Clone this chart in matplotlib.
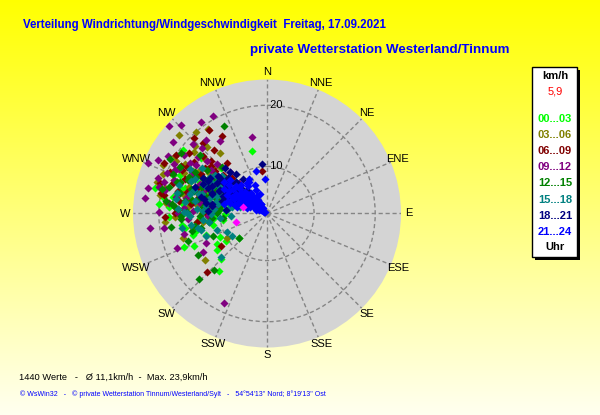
import numpy as np
import matplotlib
matplotlib.use('Agg')
import matplotlib.pyplot as plt
from matplotlib.patches import Rectangle

plt.rcParams['font.family'] = ['Liberation Sans', 'DejaVu Sans']

# Windrichtung (Grad) und Windgeschwindigkeit (km/h), je Zeitabschnitt
dir_00_03 = [275, 283, 262, 254, 246, 220, 239, 229, 290, 300, 305, 296, 288, 279, 270,
             266, 258, 251, 243, 236, 285, 292, 310, 318, 300, 276, 268, 282, 297, 304,
             289, 273, 261, 248, 234, 225, 292, 287, 315, 307, 280, 265, 256, 299, 346,
             284, 278, 291, 295, 271, 263, 286, 301, 274, 269, 281, 293, 277, 288, 298,
             284, 272, 260, 294, 303, 279, 287, 267, 290, 282]
spd_00_03 = [20.1, 21.0, 16.5, 15.0, 15.5, 14.8, 12.0, 8.2, 17.5, 15.0, 13.0, 11.0, 12.5, 14.0, 16.0,
             13.5, 11.5, 13.0, 11.0, 10.5, 9.5, 19.0, 16.5, 17.5, 7.5, 10.0, 18.5, 15.5, 14.0, 9.5,
             8.0, 12.0, 9.5, 17.0, 12.5, 13.0, 6.5, 16.5, 13.0, 19.5, 18.0, 11.0, 14.5, 18.5, 12.9,
             13.0, 15.0, 10.5, 14.5, 12.5, 14.0, 17.0, 12.0, 18.5, 9.0, 11.0, 16.0, 16.5, 14.0, 11.5,
             8.5, 11.0, 16.0, 18.0, 13.5, 19.5, 10.0, 12.0, 12.5, 9.5]

dir_03_06 = [286, 325, 265, 254, 233, 239, 300, 310, 318, 295, 305, 290, 280, 272, 312,
             322, 298, 284, 276, 308, 315, 302, 293, 288, 270, 260, 296, 311, 319, 304,
             283, 278, 299, 307, 291, 314, 285, 274, 301, 294,
             281, 289, 297, 275, 268, 303, 284, 292, 279, 287, 310, 271, 295, 300, 283,
             277, 306, 290, 262, 296, 286, 313, 280, 298, 273]
spd_03_06 = [21.0, 19.3, 19.1, 16.8, 15.1, 10.0, 19.5, 18.0, 17.0, 16.5, 14.0, 18.5, 15.5, 17.0, 21.5,
             15.0, 12.5, 13.0, 19.0, 11.5, 13.5, 20.0, 14.5, 11.0, 13.0, 15.0, 17.5, 16.0, 20.0, 9.5,
             16.5, 12.0, 10.5, 14.5, 20.5, 11.0, 14.0, 17.5, 18.0, 12.0,
             13.5, 16.0, 18.5, 15.5, 17.5, 15.5, 19.5, 12.5, 11.0, 13.0, 14.0, 12.0, 21.0, 16.5, 17.5,
             14.0, 12.0, 10.0, 13.0, 14.0, 9.5, 18.5, 20.0, 11.0, 16.0]

dir_06_09 = [325, 353, 235, 226, 300, 310, 295, 285, 305, 318, 290, 280, 298, 312, 322,
             303, 293, 287, 277, 308, 315, 300, 296, 283, 270, 263, 306, 316, 292, 301,
             289, 311, 297, 275, 320, 330, 304, 286, 299, 309,
             282, 294, 288, 279, 301, 273, 297, 285, 305, 291, 268, 276, 299, 284, 307,
             290, 281, 295, 302, 287, 278, 313, 293, 271, 296]
spd_06_09 = [19.0, 9.3, 11.6, 16.2, 17.5, 14.5, 19.0, 16.0, 12.0, 18.0, 13.5, 19.5, 15.5, 16.5, 13.0,
             20.0, 17.0, 11.0, 15.0, 18.5, 10.5, 13.0, 21.0, 14.0, 17.5, 14.0, 15.0, 19.5, 12.5, 10.0,
             17.5, 12.0, 18.0, 12.5, 16.0, 17.0, 8.5, 20.5, 14.5, 13.5,
             14.0, 11.5, 18.5, 13.0, 15.0, 16.0, 10.0, 12.5, 17.0, 14.5, 19.0, 11.0, 18.5, 17.5, 13.0,
             9.5, 20.0, 16.0, 11.5, 13.5, 17.0, 15.0, 19.5, 12.5, 8.0]

dir_09_12 = [312, 316, 324, 331, 293, 277, 271, 262, 249, 239, 206, 349, 300, 305, 290,
             284, 296, 309, 320, 315, 302, 288, 280, 298, 311, 294, 286, 303, 318, 307,
             292, 274, 266, 300, 313, 327, 296, 283, 289, 306, 299, 256, 244, 318,
             281, 294, 287, 276, 301, 270, 297, 285, 308, 291, 279, 263, 299, 283, 310,
             289, 272, 295, 304, 288, 277, 315, 293, 268, 282]
spd_09_12 = [23.5, 22.3, 20.7, 20.5, 23.2, 22.3, 20.0, 19.4, 18.1, 14.7, 18.6, 15.2, 21.0, 19.0, 18.5,
             20.5, 16.0, 17.0, 18.0, 14.0, 13.0, 15.0, 17.5, 19.5, 15.5, 12.0, 14.0, 17.5, 11.5, 21.5,
             20.0, 16.0, 15.5, 10.5, 19.0, 16.5, 22.0, 12.5, 18.0, 13.0, 9.0, 16.5, 13.5, 9.0,
             16.0, 14.5, 20.0, 18.5, 12.5, 17.0, 18.5, 15.5, 14.0, 11.0, 13.5, 21.5, 16.5, 19.5, 12.0,
             13.5, 14.5, 19.0, 16.5, 21.0, 10.5, 17.5, 12.5, 12.0, 22.0]

dir_12_15 = [334, 262, 251, 239, 223, 226, 229, 300, 290, 280, 272, 265, 296, 306, 285,
             276, 268, 258, 292, 302, 311, 287, 279, 270, 298, 283, 260, 247, 294, 305,
             288, 274, 316, 299, 281, 264, 293, 286, 309, 277,
             282, 291, 273, 297, 286, 268, 302, 279, 289, 295, 262, 276, 284, 300, 271,
             287, 293, 257, 280, 298, 266, 290, 283, 275, 296]
spd_12_15 = [18.3, 18.2, 16.1, 15.6, 15.1, 17.9, 8.2, 16.0, 17.5, 15.0, 13.0, 11.5, 12.0, 14.5, 19.0,
             18.0, 16.5, 13.5, 14.0, 10.0, 17.0, 11.0, 12.5, 10.5, 18.5, 20.0, 14.5, 12.0, 9.0, 19.5,
             15.5, 17.5, 13.0, 20.5, 10.0, 9.5, 16.5, 13.0, 11.5, 19.0,
             14.0, 12.0, 17.0, 15.5, 11.0, 13.5, 12.5, 16.0, 18.0, 16.5, 12.0, 13.0, 9.5, 10.5, 15.5,
             15.0, 19.0, 15.0, 12.0, 14.0, 16.5, 10.0, 17.0, 10.0, 13.0]

dir_15_18 = [226, 237, 290, 300, 282, 272, 262, 252, 295, 305, 288, 278, 268, 258, 310,
             298, 285, 275, 265, 245, 303, 293, 283, 270, 256, 308, 296, 287, 276, 266,
             300, 291, 280, 315, 305, 289, 273, 260, 297, 284,
             281, 292, 286, 274, 299, 269, 279, 294, 284, 261, 289, 302, 277, 296, 271,
             288, 281, 307, 264, 293, 286, 275, 298, 283, 250]
spd_15_18 = [12.8, 9.0, 10.0, 11.5, 12.5, 13.0, 12.0, 11.0, 14.0, 9.0, 15.0, 16.0, 15.0, 14.0, 12.0,
             7.5, 9.5, 11.0, 10.0, 9.5, 13.5, 16.0, 17.5, 15.5, 13.5, 10.5, 12.5, 13.5, 8.5, 8.0,
             17.0, 8.5, 14.5, 9.5, 15.5, 11.0, 17.0, 16.5, 10.0, 6.5,
             10.5, 11.0, 12.0, 14.0, 13.0, 11.5, 17.5, 13.5, 15.5, 15.0, 9.0, 12.0, 12.5, 15.5, 16.0,
             17.5, 8.0, 13.0, 13.0, 10.0, 14.0, 9.0, 11.0, 11.0, 13.0]

dir_18_21 = [354, 300, 310, 305, 295, 315, 320, 290, 285, 300, 308, 312, 298, 303, 318,
             325, 293, 288, 306, 310, 301, 296, 314, 280, 275, 299, 322, 307, 291, 317,
             296, 304, 289, 311, 283, 299, 307, 292, 315, 286, 302, 295, 278, 309, 297,
             284, 313, 290, 301, 280, 306, 293, 287, 298, 272]
spd_18_21 = [10.4, 9.0, 8.0, 10.5, 11.0, 9.5, 7.0, 12.0, 10.0, 6.5, 12.5, 11.0, 8.5, 7.5, 11.5,
             9.0, 13.0, 8.0, 6.0, 10.0, 12.0, 5.5, 8.0, 11.5, 9.0, 13.5, 10.5, 5.0, 9.5, 12.5,
             11.0, 9.5, 12.0, 7.0, 13.0, 14.5, 12.0, 10.0, 9.0, 9.5, 13.5, 14.0, 11.5, 10.5, 12.5,
             13.5, 8.5, 15.0, 8.5, 12.5, 11.5, 7.5, 8.0, 10.0, 12.0]

dir_21_24 = [357, 300, 305, 310, 315, 320, 295, 300, 305, 310, 315, 298, 303, 308, 312,
             318, 302, 307, 296, 311, 304, 309, 300, 306, 313, 299, 303, 308, 316, 301,
             305, 310, 297, 302, 307, 314, 322, 292, 325, 288, 306, 300, 311, 304, 317,
             295, 303, 309, 301, 306, 345, 330, 290, 285, 312,
             285, 290, 330, 335, 325, 282, 288, 295, 320, 328, 338, 293, 286, 300, 318,
             326, 332, 297, 283, 291, 312, 322, 305, 289, 294, 327, 315, 308, 299, 340]
spd_21_24 = [7.8, 2.0, 3.0, 2.5, 4.0, 3.5, 5.0, 6.0, 5.5, 6.5, 7.0, 4.5, 4.0, 5.0, 8.0,
             6.0, 7.5, 3.5, 8.5, 9.0, 2.5, 4.5, 9.5, 6.5, 5.5, 3.0, 7.0, 7.5, 4.5, 1.5,
             1.0, 1.8, 6.0, 8.0, 10.0, 6.5, 5.0, 7.0, 3.0, 9.0, 11.0, 10.5, 3.0, 5.0, 8.5,
             3.5, 6.0, 2.0, 4.0, 9.0, 9.5, 8.0, 5.5, 7.5, 10.5,
             5.0, 6.5, 5.0, 6.0, 7.5, 7.0, 3.0, 2.5, 2.0, 3.0, 7.0, 8.0, 8.5, 1.2, 5.5,
             4.0, 8.5, 4.0, 9.5, 4.5, 2.2, 6.0, 3.8, 6.0, 9.5, 8.0, 6.0, 5.8, 7.2, 5.0]

# letzte Werte (magenta)
dir_last = [285, 254]
spd_last = [5.9, 7.3]

groups = [
    ('00...03', '#00FF00', dir_00_03, spd_00_03),
    ('03...06', '#808000', dir_03_06, spd_03_06),
    ('06...09', '#800000', dir_06_09, spd_06_09),
    ('09...12', '#800080', dir_09_12, spd_09_12),
    ('12...15', '#008000', dir_12_15, spd_12_15),
    ('15...18', '#008080', dir_15_18, spd_15_18),
    ('18...21', '#000080', dir_18_21, spd_18_21),
    ('21...24', '#0000FF', dir_21_24, spd_21_24),
]

compass = ['N', 'NNE', 'NE', 'ENE', 'E', 'ESE', 'SE', 'SSE',
           'S', 'SSW', 'SW', 'WSW', 'W', 'WNW', 'NW', 'NNW']
rings = [10, 20]
v_max = 23.9
v_now = '5,9'

fig = plt.figure(figsize=(6, 4.15), dpi=100)

# Hintergrund-Verlauf gelb
bg = fig.add_axes([0, 0, 1, 1])
grad = np.linspace(0, 1, 256)[:, None]
top = np.array([1.0, 1.0, 0.0])
bottom = np.array([1.0, 1.0, 0.94])
img = top[None, None, :] * (1 - grad[:, :, None]) + bottom[None, None, :] * grad[:, :, None]
bg.imshow(img, aspect='auto', extent=[0, 1, 0, 1])
bg.set_axis_off()

ax = fig.add_axes([133 / 600, 1 - 347.5 / 415, 268 / 600, 268 / 415], projection='polar')
ax.set_facecolor('#D4D4D4')
ax.set_theta_zero_location('N')
ax.set_theta_direction(-1)
ax.set_rscale('function', functions=(lambda r: np.abs(r) ** 1.2, lambda r: np.abs(r) ** (1 / 1.2)))
ax.set_rlim(0, v_max)

for name, col, d, s in groups:
    ax.scatter(np.radians(d), s, c=col, marker='D', s=17, linewidths=0, zorder=3)
ax.scatter(np.radians(dir_last), spd_last, c='#FF00FF', marker='D', s=17, linewidths=0, zorder=4)

ax.set_thetagrids(np.arange(0, 360, 22.5), labels=compass, fontsize=8)
ax.tick_params(axis='x', pad=-5)
ax.set_rgrids(rings, labels=['', ''])
ax.grid(True, color='#858585', linestyle=(0, (3, 2)), linewidth=1)
ax.spines['polar'].set_visible(False)
for v in rings:
    ax.text(0, v, ' ' + str(v), ha='left', va='center', fontsize=8, zorder=5)

# Titel
fig.text(23 / 600, 1 - 25 / 415, 'Verteilung Windrichtung/Windgeschwindigkeit  Freitag, 17.09.2021',
         color='#0000FF', fontsize=8.3, fontweight='bold', va='center')
fig.text(250 / 600, 1 - 50 / 415, 'private Wetterstation Westerland/Tinnum',
         color='#0000FF', fontsize=9.6, fontweight='bold', va='center')

# Fusszeilen
fig.text(19 / 600, 1 - 377 / 415, '1440 Werte   -   \u00d8 11,1km/h  -  Max. 23,9km/h',
         color='black', fontsize=6.7, va='center')
fig.text(20 / 600, 1 - 394 / 415,
         "\u00a9 WsWin32   -   \u00a9 private Wetterstation Tinnum/Westerland/Sylt   -   "
         "54\u00b054'13\" Nord; 8\u00b019'13\" Ost",
         color='#0000FF', fontsize=5.0, va='center')

# Legende
fig.patches.append(Rectangle((535 / 600, 1 - 260 / 415), 45 / 600, 190 / 415,
                             transform=fig.transFigure, facecolor='black', edgecolor='none', zorder=5))
fig.patches.append(Rectangle((532 / 600, 1 - 257 / 415), 45 / 600, 190 / 415,
                             transform=fig.transFigure, facecolor='white', edgecolor='black',
                             linewidth=1, zorder=6))
lx = 555 / 600
fig.text(lx, 1 - 76 / 415, 'km/h', ha='center', va='center', fontsize=8, fontweight='bold', zorder=7)
fig.text(lx, 1 - 92 / 415, v_now, ha='center', va='center', fontsize=8, color='#FF0000', zorder=7)
legend_y = [119, 135, 151, 167, 183, 200, 216, 232]
for (name, col, d, s), y in zip(groups, legend_y):
    fig.text(lx, 1 - y / 415, name, ha='center', va='center', fontsize=8, fontweight='bold',
             color=col, zorder=7)
fig.text(lx, 1 - 247 / 415, 'Uhr', ha='center', va='center', fontsize=8, fontweight='bold', zorder=7)

plt.savefig('out.png', dpi=100)
